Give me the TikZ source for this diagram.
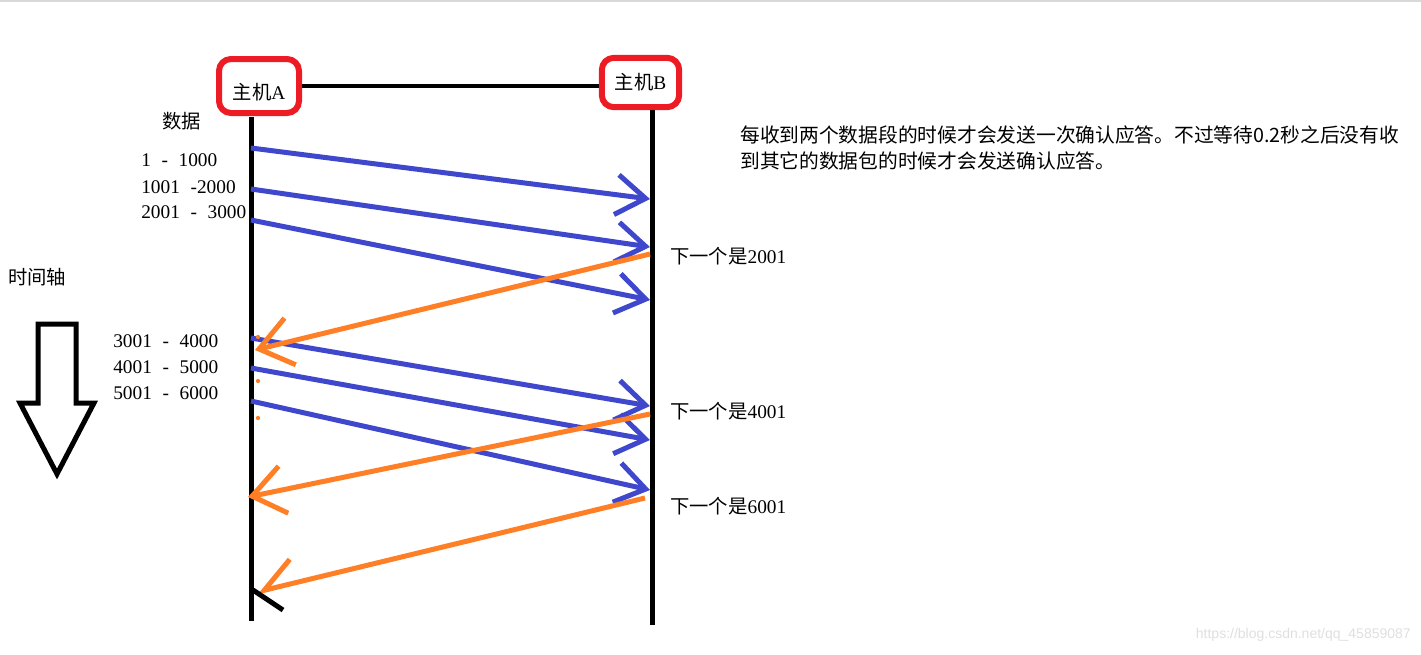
\documentclass[tikz,border=0pt]{standalone}
\usepackage{fontspec}
\setmainfont{Liberation Serif}
\newfontfamily\cjk{Noto Sans CJK SC}
\newfontfamily\urlfont{Liberation Sans}
\usetikzlibrary{arrows.meta,calc}
\definecolor{paintred}{HTML}{ED1C24}
\definecolor{paintblue}{HTML}{3F48CC}
\definecolor{paintorange}{HTML}{FF7F27}
\newcommand{\rng}[2]{#1\hspace{.55em}-\hspace{.55em}#2}

\begin{document}
\begin{tikzpicture}[x=0.75pt,y=-0.75pt,
    host/.style={draw=paintred,line width=4.5pt,rounded corners=9pt,inner sep=0pt,font=\fontsize{14.5}{17}\selectfont},
    life/.style={draw=black,line width=3.75pt},
    data/.style={draw=paintblue,line width=3.75pt,-{Straight Barb[length=22pt,width=30pt]}},
    ack/.style={draw=paintorange,line width=3.75pt,-{Straight Barb[length=24pt,width=36pt]}},
    lbl/.style={anchor=west,inner sep=0pt,font=\fontsize{14.5}{17}\selectfont}]
        \useasboundingbox (0,0) rectangle (1421,654);
        \draw[draw=gray!30,line width=1pt] (0,1) -- (1421,1);
        % hosts
        \node[host,minimum width=60pt,minimum height=40.5pt,text height=20pt,text depth=0pt] (hostA) at (259,86) {{\cjk 主机}A};
        \node[host,minimum width=58pt,minimum height=37pt] (hostB) at (640.5,82.5) {{\cjk 主机}B};
        \draw[line width=3pt] (hostA.east) -- (hostA.east -| hostB.west);
        \coordinate (aTop) at (251,117);
        \coordinate (aEnd) at (251,621);
        \coordinate (bTop) at (652,110);
        \coordinate (bEnd) at (652,625);
        \draw[life] (aTop) -- (aEnd);
        \draw[life] (bTop) -- (bEnd);
        % data segments
        \foreach \ya/\yb [count=\i] in {148/199,189/247,220/300,338/406,368/440,401/490}{
            \coordinate (send\i) at (251,\ya);
            \coordinate (recv\i) at (650,\yb);
            \draw[data] (send\i) -- (recv\i);
        }
        % acknowledgements
        \coordinate (ackOut1) at (650,254);
        \coordinate (ackIn1) at (255,350);
        \coordinate (ackOut2) at (650,414);
        \coordinate (ackIn2) at (248,497);
        \coordinate (ackOut3) at (645,498);
        \coordinate (ackIn3) at (257,592);
        \draw[ack] (ackOut1) -- (ackIn1);
        \draw[ack] (ackOut2) -- (ackIn2);
        \draw[ack,-{Straight Barb[length=24pt,width=36pt,harpoon,swap]}] (ackOut3) -- (ackIn3);
        \coordinate (tickStart) at (253,590);
        \coordinate (tickEnd) at (283,610);
        \draw[life] (tickStart) -- (tickEnd);
        \fill[paintorange] (258,337) circle[radius=1.6pt];
        \fill[paintorange] (258,381) circle[radius=1.6pt];
        \fill[paintorange] (258,418) circle[radius=1.6pt];
        % labels
        \node[lbl] (dataHead) at (162,121) {\cjk 数据};
        \node[lbl] (seg1) at (141,160) {\rng{1}{1000}};
        \node[lbl] (seg2) at (141,187) {1001\hspace{.55em}-2000};
        \node[lbl] (seg3) at (141,212) {\rng{2001}{3000}};
        \node[lbl] (seg4) at (113,341) {\rng{3001}{4000}};
        \node[lbl] (seg5) at (113,367) {\rng{4001}{5000}};
        \node[lbl] (seg6) at (113,393) {\rng{5001}{6000}};
        \node[lbl] (next1) at (670,256) {{\cjk 下一个是}2001};
        \node[lbl] (next2) at (670,411) {{\cjk 下一个是}4001};
        \node[lbl] (next3) at (670,506) {{\cjk 下一个是}6001};
        \node[lbl,align=left,font=\cjk\fontsize{14.8}{19.5}\selectfont] (note) at (740,148)
            {每收到两个数据段的时候才会发送一次确认应答。不过等待0.2秒之后没有收\\到其它的数据包的时候才会发送确认应答。};
        % time axis
        \node[lbl] (axisLbl) at (8,277) {\cjk 时间轴};
        \draw[line width=3.75pt,line join=miter] (38,324) -- (76,324) -- (76,403) -- (94,403) -- (57,474) -- (20,403) -- (38,403) -- cycle;
        \node[anchor=east,inner sep=0pt,text=gray!25,font=\urlfont\fontsize{10.5}{12}\selectfont] (mark) at (1411,635) {https://blog.csdn.net/qq\_45859087};
\end{tikzpicture}
\end{document}
